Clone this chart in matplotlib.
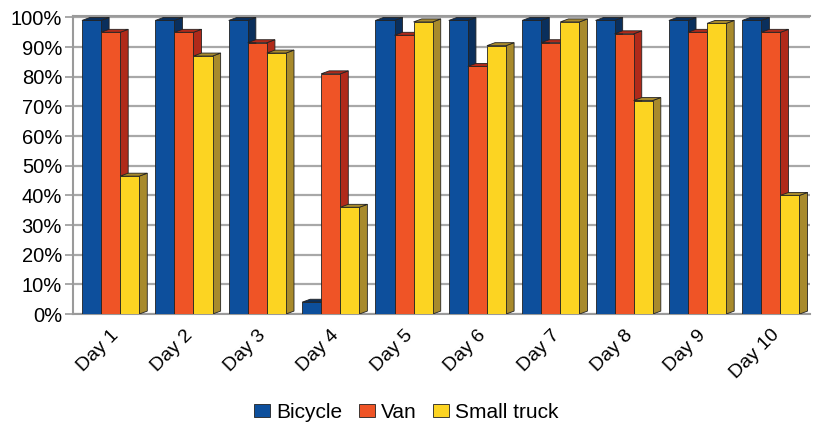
import numpy as np
import matplotlib.pyplot as plt
from matplotlib.patches import Polygon, Patch

plt.rcParams['font.family'] = ['Liberation Sans', 'DejaVu Sans']

days = ['Day 1', 'Day 2', 'Day 3', 'Day 4', 'Day 5',
        'Day 6', 'Day 7', 'Day 8', 'Day 9', 'Day 10']
bicycle = [99, 99, 99, 4, 99, 99, 99, 99, 99, 99]
van = [95, 95, 91.5, 81, 94, 83.5, 91.5, 94.5, 95, 95]
small_truck = [46.5, 87, 88, 36, 98.5, 90.5, 98.5, 72, 98, 40]

series = [
    ('Bicycle', bicycle, '#0d4f9c', '#0a2f5c'),
    ('Van', van, '#ef5426', '#b02a1a'),
    ('Small truck', small_truck, '#fcd422', '#a88a2c'),
]

fig = plt.figure(figsize=(8.13, 4.32), dpi=100)
ax = fig.add_axes([0.09, 0.273, 0.906, 0.69])

x = np.arange(len(days))
w = 0.26
shift = -0.01
dx, dy = 0.11, 1.0   # depth of the pseudo-3D boxes

for i, (name, vals, face, side) in enumerate(series):
    pos = x - 1.5 * w + (i + 0.5) * w + shift
    ax.bar(pos, vals, width=w, color=face, edgecolor='#222222',
           linewidth=0.6, zorder=3 + i)
    for p, v in zip(pos, vals):
        l, r = p - w / 2, p + w / 2
        # right side face
        ax.add_patch(Polygon([(r, 0), (r + dx, dy), (r + dx, v + dy), (r, v)],
                             closed=True, facecolor=side, edgecolor='#222222',
                             linewidth=0.6, zorder=2.9 + i))
        # top face
        ax.add_patch(Polygon([(l, v), (l + dx, v + dy), (r + dx, v + dy), (r, v)],
                             closed=True, facecolor=side, edgecolor='#222222',
                             linewidth=0.6, zorder=2.9 + i))

ax.set_xlim(-0.52, 9.52)
ax.set_ylim(0, 100.5)
ax.set_yticks(np.arange(0, 101, 10))
ax.set_yticklabels([f'{t}%' for t in range(0, 101, 10)], fontsize=14.5)
ax.set_xticks(x + shift)
ax.set_xticklabels(days, rotation=45, ha='right', va='top',
                   rotation_mode='anchor', fontsize=14)
ax.tick_params(axis='x', length=0, pad=9)
ax.tick_params(axis='y', length=6, color='#999999', width=1.2, pad=2)

ax.yaxis.grid(True, color='#a8a8a8', linewidth=1.6, zorder=0)
ax.set_axisbelow(True)
for s in ['left', 'bottom', 'top']:
    ax.spines[s].set_color('#9a9a9a')
    ax.spines[s].set_linewidth(1.5)
ax.spines['right'].set_visible(False)

handles = [Patch(facecolor=f, edgecolor='#222222', linewidth=0.6, label=n)
           for n, _, f, _ in series]
fig.legend(handles=handles, loc='lower center', bbox_to_anchor=(0.5, -0.02),
           ncol=3, frameon=False, fontsize=15, handlelength=0.75,
           handleheight=0.6, handletextpad=0.3, columnspacing=0.8)

fig.savefig('out.png', dpi=100)
